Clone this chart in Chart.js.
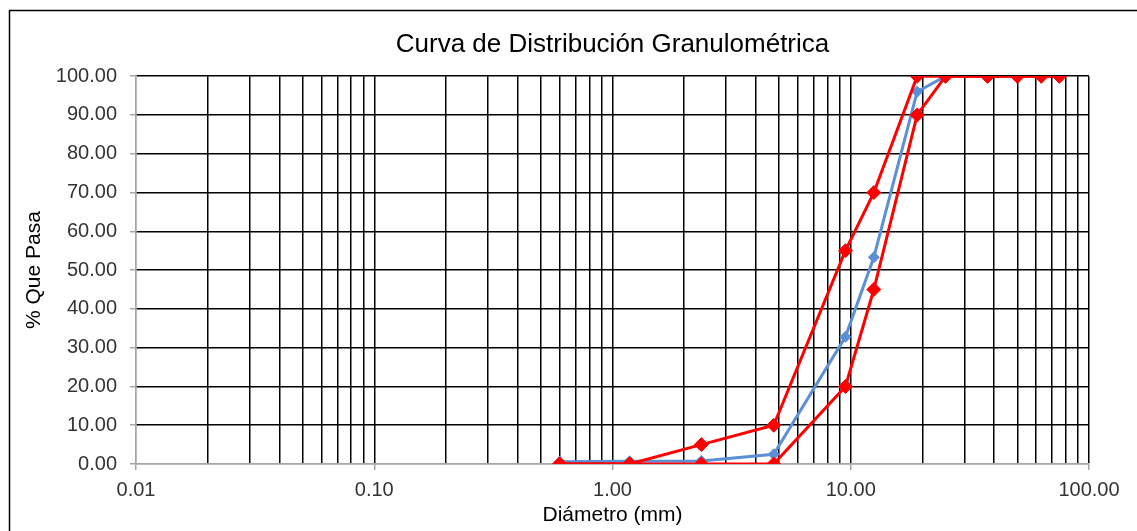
<!DOCTYPE html>
<html>
<head>
<meta charset="utf-8">
<script src="https://cdn.jsdelivr.net/npm/chart.js@4.4.1/dist/chart.umd.min.js"></script>
<style>
  html, body { margin: 0; padding: 0; background: #fff; }
  #wrap { position: relative; width: 1137px; height: 531px; }
</style>
</head>
<body>
<div id="wrap"><canvas id="granChart" width="1137" height="531"></canvas></div>
<script>
// sieve openings (mm) and % passing
const sieveSizes = [75, 63, 50, 37.5, 25, 19, 12.5, 9.5, 4.75, 2.36, 1.18, 0.6];
const upperLimit = [100, 100, 100, 100, 100, 100, 70, 55, 10, 5, 0, 0];
const lowerLimit = [100, 100, 100, 100, 100, 90, 45, 20, 0, 0, 0, 0];
const passing = [null, null, null, null, 100, 96, 53.3, 32.8, 2.5, 0.8, 0.7, 0.6];

const xTickLabels = ["0.01", "0.10", "1.00", "10.00", "100.00"];
const yTicks = [0, 10, 20, 30, 40, 50, 60, 70, 80, 90, 100];

const RED = "#FF0000";
const BLUE = "#5B8FD6";
const AXIS_GRAY = "#A6A6A6";
const FONT = "'Liberation Sans', Arial, sans-serif";

const toPoints = (ys) => sieveSizes.map((x, i) => ({ x, y: ys[i] }));

// every 1..9 x 10^k between 0.01 and 100 gets a grid line
const decades = xTickLabels.map(Number);
const xGridValues = [];
decades.forEach((d, i) => {
  if (i === decades.length - 1) { xGridValues.push(d); return; }
  for (let m = 1; m < 10; m++) xGridValues.push(+(d * m).toPrecision(3));
});
const decadeIndex = (v) => decades.findIndex((d) => Math.abs(d - v) < 1e-9);

// outer frame of the chart object
const framePlugin = {
  id: "frame",
  beforeDraw(chart) {
    const ctx = chart.ctx;
    ctx.save();
    ctx.strokeStyle = "#000";
    ctx.lineWidth = 1.5;
    ctx.strokeRect(9.5, 10.5, 1160, 560);
    ctx.restore();
  },
};

function lineSet(label, data, color, radius) {
  return {
    label,
    data: toPoints(data),
    borderColor: color,
    backgroundColor: color,
    borderWidth: 3,
    pointStyle: "rectRot",
    pointRadius: radius,
    pointBorderWidth: 1,
    pointBackgroundColor: color,
    pointBorderColor: color,
    tension: 0,
  };
}

new Chart(document.getElementById("granChart"), {
  type: "line",
  data: {
    datasets: [
      lineSet("Límite superior", upperLimit, RED, 7),
      lineSet("Límite inferior", lowerLimit, RED, 7),
      lineSet("Muestra", passing, BLUE, 5.5),
    ],
  },
  options: {
    responsive: false,
    animation: false,
    layout: { padding: { left: 0, right: 48, top: 0, bottom: 0 } },
    plugins: {
      legend: { display: false },
      tooltip: { enabled: false },
      title: {
        display: true,
        fullSize: false,
        text: "Curva de Distribución Granulométrica",
        color: "#000",
        font: { family: FONT, size: 26, weight: "normal" },
        padding: { top: 29, bottom: 16 },
      },
    },
    scales: {
      x: {
        type: "logarithmic",
        min: 0.01,
        max: 100,
        afterBuildTicks: (scale) => {
          scale.ticks = xGridValues.map((v) => ({ value: v, major: decadeIndex(v) >= 0 }));
        },
        afterFit: (scale) => { scale.height = 67; },
        ticks: {
          autoSkip: false,
          maxRotation: 0,
          padding: 8,
          color: "#333",
          font: { family: FONT, size: 20 },
          callback: (v) => (decadeIndex(v) >= 0 ? xTickLabels[decadeIndex(v)] : ""),
        },
        grid: {
          color: (c) => (c.tick && c.tick.value === 0.01 ? AXIS_GRAY : "#000"),
          lineWidth: 1.5,
          tickLength: 6,
          tickColor: (c) => (c.tick && decadeIndex(c.tick.value) >= 0 ? AXIS_GRAY : "rgba(0,0,0,0)"),
        },
        border: { color: AXIS_GRAY, width: 1.5 },
        title: {
          display: true,
          text: "Diámetro (mm)",
          color: "#000",
          font: { family: FONT, size: 21 },
          padding: { top: 3.5, bottom: 3.5 },
        },
      },
      y: {
        min: 0,
        max: 100,
        afterBuildTicks: (scale) => { scale.ticks = yTicks.map((v) => ({ value: v })); },
        afterFit: (scale) => { scale.width = 136; },
        ticks: {
          padding: 13,
          color: "#333",
          font: { family: FONT, size: 20 },
          callback: (v) => Number(v).toFixed(2),
        },
        grid: {
          color: (c) => (c.tick && c.tick.value === 0 ? AXIS_GRAY : "#000"),
          lineWidth: 1.5,
          tickLength: 6,
          tickColor: AXIS_GRAY,
        },
        border: { color: AXIS_GRAY, width: 1.5 },
        title: {
          display: true,
          text: "% Que Pasa",
          color: "#000",
          font: { family: FONT, size: 21 },
          padding: { top: 22, bottom: 0 },
        },
      },
    },
  },
  plugins: [framePlugin],
});
</script>
</body>
</html>
